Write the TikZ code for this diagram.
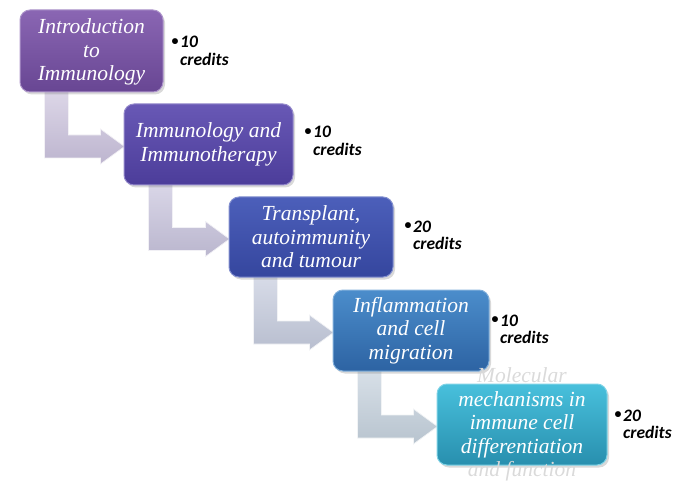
\documentclass[tikz,border=0pt]{standalone}
\usepackage{fontspec}
\setmainfont{Liberation Serif}
\newfontfamily\credfont{Carlito}
\usetikzlibrary{shadows,calc,backgrounds}
\definecolor{bAt}{HTML}{8A66B3}\definecolor{bAb}{HTML}{684693}
\definecolor{bBt}{HTML}{6858B5}\definecolor{bBb}{HTML}{4C3D9A}
\definecolor{bCt}{HTML}{4C5FBA}\definecolor{bCb}{HTML}{35469E}
\definecolor{bDt}{HTML}{4B8DCB}\definecolor{bDb}{HTML}{2D63A3}
\definecolor{bEt}{HTML}{48C0DC}\definecolor{bEb}{HTML}{288FAE}
\definecolor{aAt}{HTML}{DDD7E8}\definecolor{aAb}{HTML}{BDB5CF}
\definecolor{aBt}{HTML}{DAD7E8}\definecolor{aBb}{HTML}{BAB6CE}
\definecolor{aCt}{HTML}{D8DCE8}\definecolor{aCb}{HTML}{B8BECF}
\definecolor{aDt}{HTML}{D8E0E8}\definecolor{aDb}{HTML}{B8C4CF}
\definecolor{glow}{HTML}{DADADA}
\tikzset{
  stepbox/.style n args={2}{rounded corners=10pt, top color=#1, bottom color=#2,
    draw=#1!70!white, line width=1pt, inner sep=0pt,
    drop shadow={shadow xshift=2pt, shadow yshift=-2.5pt, opacity=0.3}},
  boxtext/.style={text=white, align=center, inner sep=0pt,
    font=\itshape\fontsize{21.5}{23.6}\selectfont},
  cred/.style={font=\credfont\bfseries\itshape\fontsize{17.5}{19}\selectfont, inner sep=0pt, text=black},
  bul/.style={font=\credfont\bfseries\fontsize{14}{16}\selectfont, inner sep=0pt, text=black},
  arrowfill/.style n args={2}{top color=#1, bottom color=#2, draw=white!80!#2, line width=0.7pt},
}
\newcommand\gl[1]{\textcolor{glow}{#1}}
\newcommand\steparrow[4]{%
  \path[arrowfill={#3}{#4}] let \p1=(#1.south west), \p2=(#2.west) in
    ({\x1+25pt},{\y1+3pt}) -- ({\x1+49pt},{\y1+3pt}) -- ({\x1+49pt},{\y2-2pt+11.5pt})
    -- ({\x2-23pt},{\y2-2pt+11.5pt}) -- ({\x2-23pt},{\y2-2pt+17.5pt})
    -- ({\x2+1pt},{\y2-2pt}) -- ({\x2-23pt},{\y2-2pt-17.5pt})
    -- ({\x2-23pt},{\y2-2pt-11.5pt}) -- ({\x1+25pt},{\y2-2pt-11.5pt}) -- cycle;}
\begin{document}
\begin{tikzpicture}[x=1pt,y=-1pt]
\useasboundingbox (0,0) rectangle (676,494);
% boxes
\node[stepbox={bAt}{bAb}, minimum width=143pt, minimum height=82pt] (b1) at (91.5,51) {};
\node[stepbox={bBt}{bBb}, minimum width=169pt, minimum height=81pt] (b2) at (208.5,144.5) {};
\node[stepbox={bCt}{bCb}, minimum width=164pt, minimum height=80pt] (b3) at (311,237) {};
\node[stepbox={bDt}{bDb}, minimum width=156pt, minimum height=81pt] (b4) at (411,330.5) {};
\node[stepbox={bEt}{bEb}, minimum width=170pt, minimum height=81pt] (b5) at (522,424.5) {};
% arrows
\begin{scope}[on background layer]
\steparrow{b1}{b2}{aAt}{aAb}
\steparrow{b2}{b3}{aBt}{aBb}
\steparrow{b3}{b4}{aCt}{aCb}
\steparrow{b4}{b5}{aDt}{aDb}
\end{scope}
% box texts
\node[boxtext] (t1) at ($(b1.center)+(0,1)$) {Introduction\\to\\Immunology};
\node[boxtext] (t2) at (b2.center) {Immunology and\\Immunotherapy};
\node[boxtext] (t3) at (b3.center) {Transplant,\\autoimmunity\\and tumour};
\node[boxtext] (t4) at (b4.center) {Inflammation\\and cell\\migration};
\node[boxtext] (t5) at (b5.center) {\gl{Molecular}\\mechanisms in\\immune cell\\differentiation\\\gl{and function}};
% credits
\node[bul] (u1) at (175,42) {•};
\node[cred, anchor=base west] (k1) at (180,48) {10};
\node[cred, anchor=base west] (l1) at (180,65.5) {credits};
\node[bul] (u2) at (308,132) {•};
\node[cred, anchor=base west] (k2) at (313,138) {10};
\node[cred, anchor=base west] (l2) at (313,155.5) {credits};
\node[bul] (u3) at (408,226) {•};
\node[cred, anchor=base west] (k3) at (413,232) {20};
\node[cred, anchor=base west] (l3) at (413,249.5) {credits};
\node[bul] (u4) at (495,320) {•};
\node[cred, anchor=base west] (k4) at (500,326) {10};
\node[cred, anchor=base west] (l4) at (500,343.5) {credits};
\node[bul] (u5) at (618,415) {•};
\node[cred, anchor=base west] (k5) at (623,421) {20};
\node[cred, anchor=base west] (l5) at (623,438.5) {credits};
\end{tikzpicture}
\end{document}
